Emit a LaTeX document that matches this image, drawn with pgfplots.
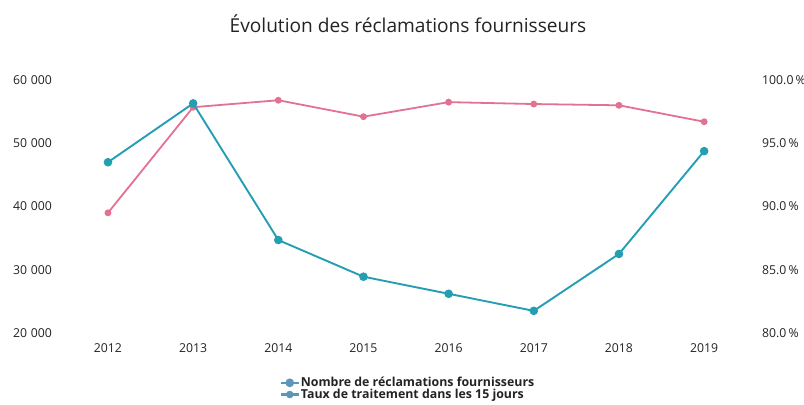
\documentclass[border=0pt]{standalone}
\usepackage{pgfplots}
\pgfplotsset{compat=1.18}
\usepackage{fontspec}
\setmainfont{Open Sans}
\definecolor{tealc}{RGB}{35,158,178}
\definecolor{pinkc}{RGB}{226,114,146}
\definecolor{legc}{RGB}{92,150,185}
\definecolor{txt}{RGB}{35,35,35}
\begin{document}
\begin{tikzpicture}
\useasboundingbox (0,0) rectangle (804bp,405bp);
\node[text=txt, font=\fontsize{19.2}{22}\selectfont] at (408bp,381bp) {Évolution des réclamations fournisseurs};
\pgfplotsset{
  base/.style={
    at={(70bp,72bp)}, anchor=south west,
    scale only axis, width=675bp, height=253bp,
    xmin=-0.446, xmax=7.48,
    axis line style={draw=none},
    tick style={draw=none},
    major tick length=0pt,
    scaled y ticks=false,
    /pgf/number format/assume math mode=true,
    ticklabel style={font=\fontsize{12.3}{14}\selectfont, text=txt},
  }
}
% right axis: taux
\begin{axis}[base,
  ymin=80, ymax=100,
  ytick={80,85,90,95,100},
  axis y line*=right,
  axis x line=none,
  yticklabel={\pgfmathprintnumber[fixed,fixed zerofill,precision=1]{\tick}\,\%},
  yticklabel style={anchor=west, inner sep=0pt, xshift=17bp},
]
\addplot[pinkc, line width=1.8bp, mark=*, mark size=2.5bp, mark options={fill=pinkc, draw=pinkc}]
  coordinates {(0,89.5) (1,97.85) (2,98.4) (3,97.1) (4,98.25) (5,98.1) (6,98.0) (7,96.7)};
\end{axis}
% left axis: nombre
\begin{axis}[base,
  ymin=20000, ymax=60000,
  ytick={20000,30000,40000,50000,60000},
  xtick={0,...,7},
  xticklabels={2012,2013,2014,2015,2016,2017,2018,2019},
  xticklabel style={anchor=north, inner sep=0pt, yshift=-10bp},
  yticklabel style={anchor=east, inner sep=0pt, xshift=-18bp},
  /pgf/number format/1000 sep={\hspace{0.3em}},
  legend style={at={(0.5,-0.22)}, anchor=center, draw=none, fill=none,
    font=\fontsize{12.4}{12}\selectfont\bfseries, text=txt,
    row sep=-1.2pt, nodes={inner sep=1pt}},
  legend cell align=left,
  legend image code/.code={\draw[mark repeat=2,mark phase=2,#1] plot coordinates {(0bp,0bp) (9bp,0bp) (18bp,0bp)};},
]
\addplot[tealc, line width=1.9bp, mark=*, mark size=3.3bp, mark options={fill=tealc, draw=tealc}, forget plot]
  coordinates {(0,47000) (1,56300) (2,34700) (3,28900) (4,26200) (5,23500) (6,32500) (7,48750)};
\addlegendimage{legc, line width=2.2bp, mark=*, mark size=3.2bp, mark options={fill=legc}}
\addlegendentry{Nombre de réclamations fournisseurs}
\addlegendimage{legc, line width=2.2bp, mark=*, mark size=2.6bp, mark options={fill=legc}}
\addlegendentry{Taux de traitement dans les 15 jours}
\end{axis}
\end{tikzpicture}
\end{document}
